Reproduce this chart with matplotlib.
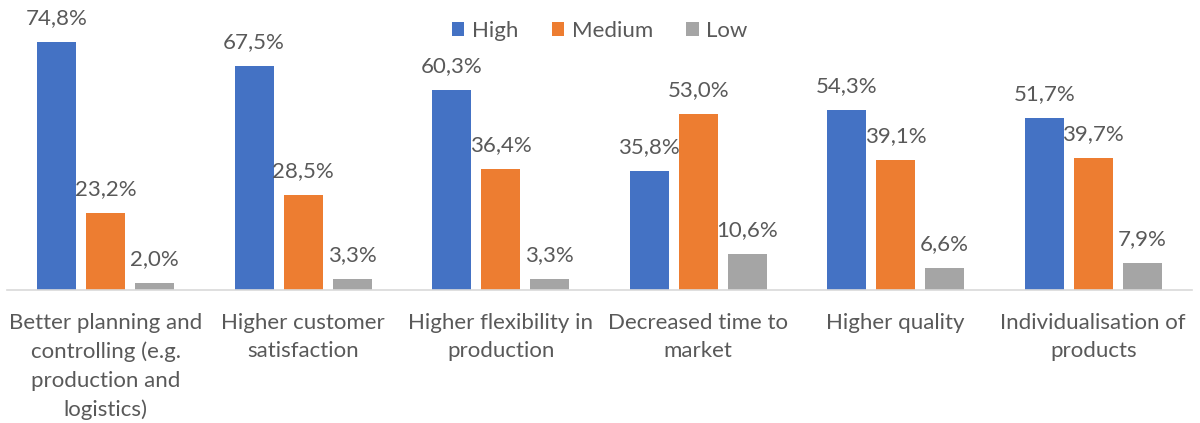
import matplotlib
matplotlib.use("Agg")
import matplotlib.pyplot as plt
import numpy as np
from matplotlib.patches import Patch

categories = ["Better planning and\ncontrolling (e.g.\nproduction and\nlogistics)",
              "Higher customer\nsatisfaction",
              "Higher flexibility in\nproduction",
              "Decreased time to\nmarket",
              "Higher quality",
              "Individualisation of\nproducts"]
series_names = ["High", "Medium", "Low"]
high = [74.8, 67.5, 60.3, 35.8, 54.3, 51.7]
medium = [23.2, 28.5, 36.4, 53.0, 39.1, 39.7]
low = [2.0, 3.3, 3.3, 10.6, 6.6, 7.9]
colors = ["#4472C4", "#ED7D31", "#A5A5A5"]

TXT = "#595959"
FONT = "Lato"
FS = 16

fig = plt.figure(figsize=(12, 4.23), dpi=100)
ax = fig.add_axes([6.75/1200, 1-289.5/423, 1185.25/1200, 264.7/423])

x = np.arange(len(categories))
w = 39/197.5
off = 49/197.5
for i, (vals, c, name) in enumerate(zip([high, medium, low], colors, series_names)):
    bars = ax.bar(x + (i-1)*off, vals, width=w, color=c, label=name, zorder=2)
    for b, v in zip(bars, vals):
        ax.annotate(f"{v:.1f}%".replace(".", ","), (b.get_x()+b.get_width()/2, v),
                    xytext=(0, 10), textcoords="offset points", ha="center", va="bottom",
                    fontsize=FS, color=TXT, family=FONT, annotation_clip=False)

ax.set_xlim(-0.5, len(categories)-0.5)
ax.set_ylim(0, 80)
ax.set_yticks([])
for s in ["top", "left", "right"]:
    ax.spines[s].set_visible(False)
ax.spines["bottom"].set_color("#D9D9D9")
ax.spines["bottom"].set_linewidth(1.2)
ax.set_xticks(x)
ax.set_xticklabels(categories, fontsize=FS, color=TXT, family=FONT, linespacing=1.52)
ax.tick_params(axis="x", length=0, pad=17)

handles = [Patch(facecolor=c, edgecolor="none") for c in colors]
leg = fig.legend(handles, series_names, loc="center", bbox_to_anchor=(0.5, 1-31/423),
                 ncol=3, frameon=False, prop={"family": FONT, "size": FS},
                 handlelength=0.55, handleheight=0.55, handletextpad=0.35, columnspacing=1.5)
for t in leg.get_texts():
    t.set_color(TXT)

fig.savefig("out.png", dpi=100)
